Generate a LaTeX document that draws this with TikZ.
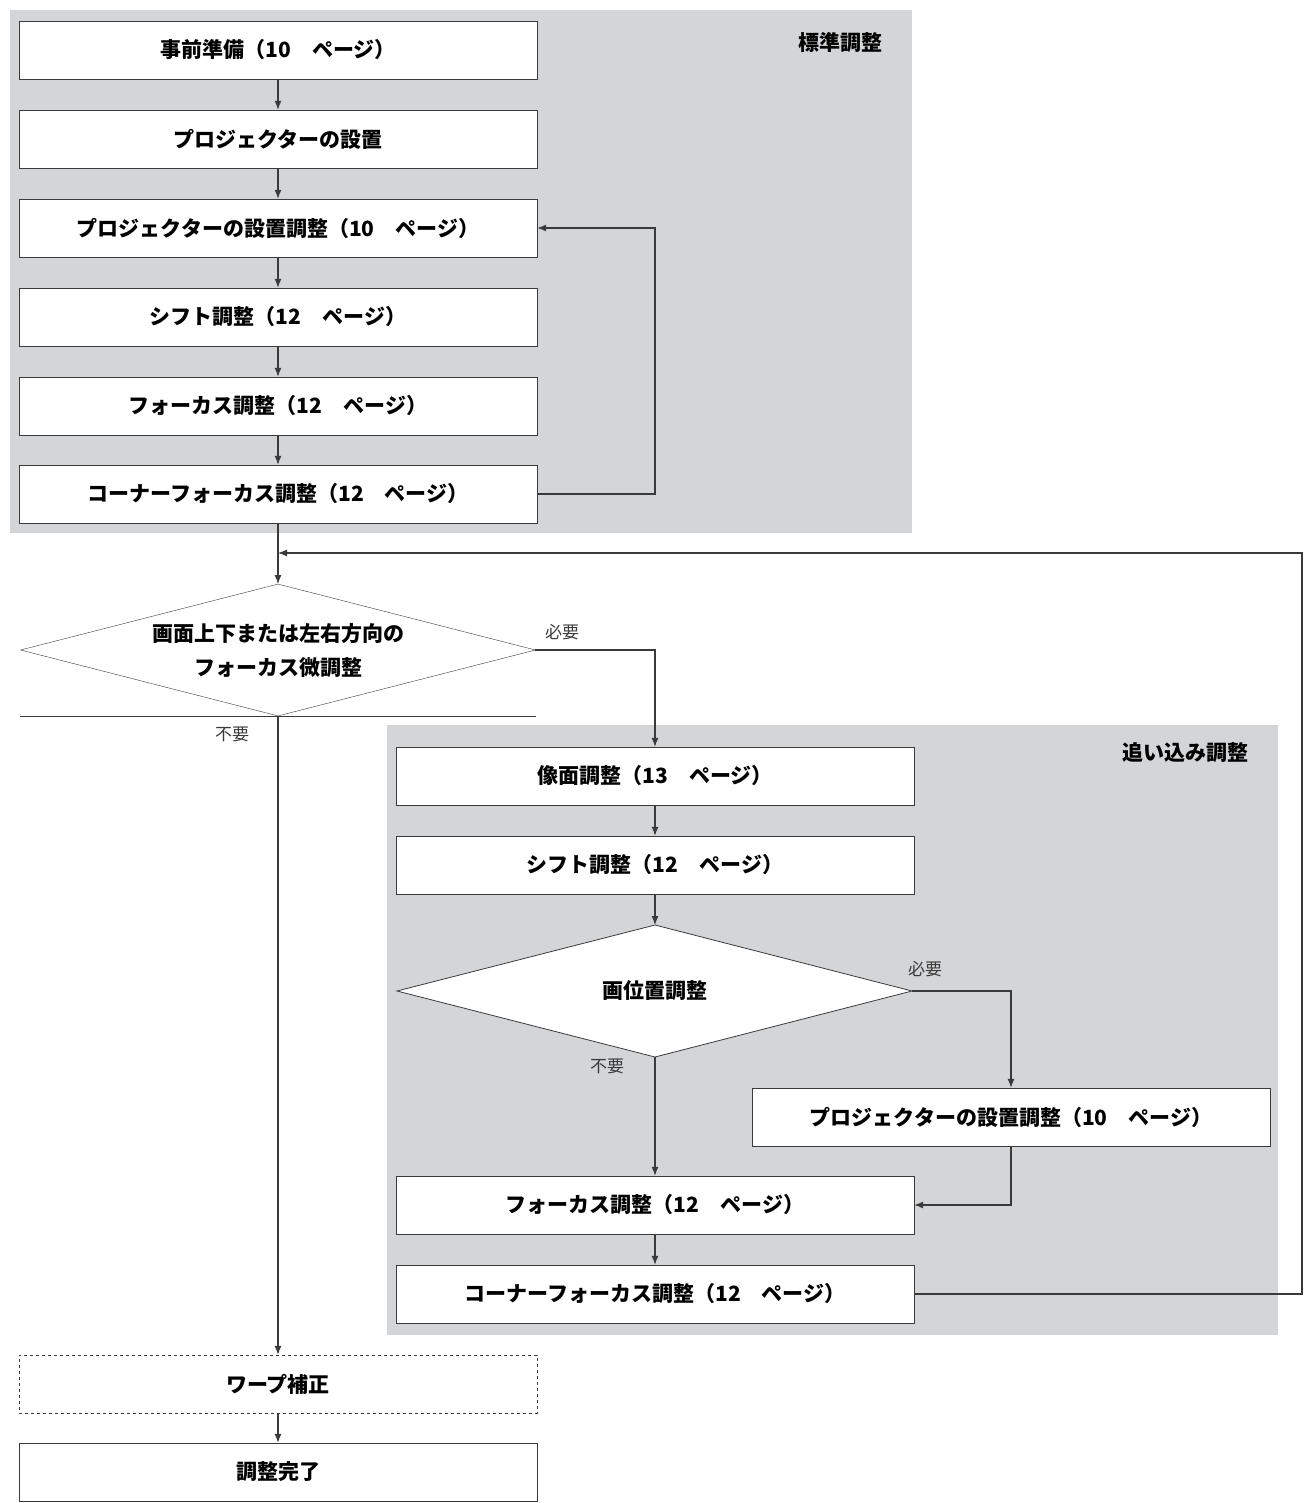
\documentclass[tikz,border=0pt]{standalone}
\usepackage{fontspec}
\setmainfont{Noto Sans CJK JP}
\newfontfamily\jpb{Noto Sans CJK JP}[BoldFont=* Bold]
\usetikzlibrary{arrows.meta,shapes.geometric}
\definecolor{panel}{HTML}{D4D5D7}
\definecolor{ln}{HTML}{3A3A3A}
\begin{document}
\begin{tikzpicture}[x=1pt,y=-1pt,
  box/.style={draw=ln,fill=white,minimum width=518pt,minimum height=58pt,inner sep=0pt,font=\fontsize{21}{24}\selectfont\bfseries},
  dia/.style={draw=ln,fill=white,diamond,inner sep=0pt,font=\fontsize{21}{30}\selectfont\bfseries,align=center},
  lab/.style={font=\fontsize{17}{20}\selectfont,text=ln},
  plab/.style={font=\fontsize{21}{24}\selectfont\bfseries},
  ar/.style={draw=ln,line width=1.1pt,-{Latex[length=9pt,width=7pt]}},
  ln/.style={draw=ln,line width=1.1pt}]
\useasboundingbox (0,0) rectangle (1307,1503);
\fill[panel] (10,10) rectangle (912,533);
\fill[panel] (387,725) rectangle (1278,1335);
\node[plab] (l1) at (840,43) {標準調整};
\node[plab] (l2) at (1185,753) {追い込み調整};
\node[box] (b1) at (278,50) {事前準備（10　ページ）};
\node[box] (b2) at (278,139) {プロジェクターの設置};
\node[box] (b3) at (278,228) {プロジェクターの設置調整（10　ページ）};
\node[box] (b4) at (278,317) {シフト調整（12　ページ）};
\node[box] (b5) at (278,406) {フォーカス調整（12　ページ）};
\node[box] (b6) at (278,494) {コーナーフォーカス調整（12　ページ）};
\node[draw=ln,fill=white,minimum width=515pt,minimum height=132pt,inner sep=0pt] (d1s) at (278,650) {};
\path[fill=white] (d1s.south west) rectangle (d1s.north east);
\node[dia,minimum width=515pt,minimum height=132pt,aspect=3.9] (d1) at (278,650) {};
\node[font=\fontsize{21}{34}\selectfont\bfseries,align=center] (d1t) at (278,650) {画面上下または左右方向の\\フォーカス微調整};
\node[box] (e1) at (655,776) {像面調整（13　ページ）};
\node[box] (e2) at (655,865) {シフト調整（12　ページ）};
\node[draw=none,minimum width=515pt,minimum height=132pt] (d2) at (655,991) {};
\draw[draw=ln,fill=white,line width=0.8pt] (397,991)--(655,925)--(912,991)--(655,1057)--cycle;
\node[plab] (d2t) at (655,991) {画位置調整};
\node[box] (p) at (1011,1117) {プロジェクターの設置調整（10　ページ）};
\node[box] (e3) at (655,1205) {フォーカス調整（12　ページ）};
\node[box] (e4) at (655,1294) {コーナーフォーカス調整（12　ページ）};
\node[box,dashed] (w) at (278,1384) {ワープ補正};
\node[box] (f) at (278,1472) {調整完了};
\coordinate (j) at (278,553);
\coordinate (r1) at (1302,1294);
\coordinate (r2) at (1302,553);
\draw[ar] (b1)--(b2);
\draw[ar] (b2)--(b3);
\draw[ar] (b3)--(b4);
\draw[ar] (b4)--(b5);
\draw[ar] (b5)--(b6);
\draw[ar] (b6.east)-|(655,360)|-(b3.east);
\draw[ar] (b6.south)--(278,584);
\draw[ar] (e4.east)-|(r2)--(j);
\draw[ar] (535,650)-|(e1.north);
\draw[ar] (278,716)--(w.north);
\draw[ar] (e1)--(e2);
\draw[ar] (e2.south)--(655,925);
\draw[ar] (912,991)-|(p.north);
\draw[ar] (655,1057)--(e3.north);
\draw[ar] (p.south)|-(e3.east);
\draw[ar] (e3)--(e4);
\draw[ar] (w)--(f);
\node[lab] (n1) at (562,632) {必要};
\node[lab] (n2) at (232,734) {不要};
\node[lab] (n3) at (925,969) {必要};
\node[lab] (n4) at (607,1066) {不要};
\end{tikzpicture}
\end{document}
